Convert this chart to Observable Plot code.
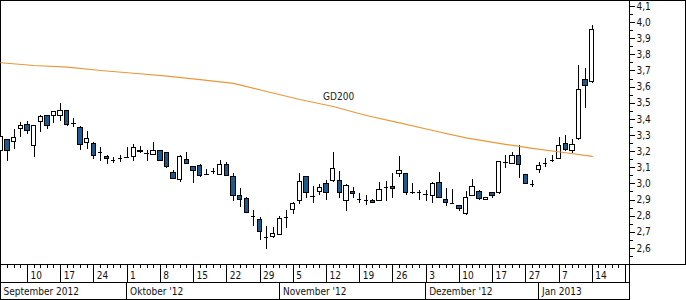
<!DOCTYPE html>
<html><head><meta charset="utf-8">
<script src="https://cdn.jsdelivr.net/npm/d3@7"></script>
<script src="https://cdn.jsdelivr.net/npm/@observablehq/plot@0.6"></script>
<style>
html,body{margin:0;padding:0;background:#fff;}
#wrap{width:686px;height:300px;overflow:hidden;background:#fff;}
#wrap svg{display:block;}
</style></head><body><div id="wrap"></div>
<script>
// ---- data (trading-day index 0 = 4 Sep 2012, 89 = 14 Jan 2013) ----
const opens  = [3.203,3.273,3.258,3.342,3.368,3.234,3.382,3.418,3.418,3.420,3.449,3.373,3.348,3.255,3.249,3.196,3.164,3.145,3.156,3.165,
                3.165,3.195,3.187,3.180,3.201,3.193,3.069,3.025,3.149,3.103,3.114,3.056,3.079,3.056,3.118,3.041,2.928,2.907,2.798,2.777,
                2.666,2.670,2.685,2.790,2.840,2.891,3.041,2.922,2.949,3.000,3.015,3.021,2.897,2.952,2.903,2.897,2.897,2.893,2.979,2.982,
                3.062,3.062,2.948,2.944,2.932,2.928,3.007,2.903,2.877,2.860,2.815,2.928,2.952,2.901,2.942,2.942,3.134,3.125,3.170,3.058,
                2.996,3.089,3.125,3.145,3.156,3.249,3.203,3.280,3.647,3.631];
const highs  = [3.312,3.275,3.335,3.382,3.387,3.362,3.424,3.421,3.451,3.497,3.455,3.404,3.356,3.327,3.254,3.224,3.176,3.165,3.176,3.227,
                3.244,3.232,3.207,3.255,3.207,3.195,3.083,3.176,3.193,3.108,3.120,3.087,3.097,3.145,3.131,3.062,2.969,2.915,2.835,2.790,
                2.738,2.732,2.798,2.835,2.887,3.066,3.045,2.986,2.994,3.021,3.193,3.077,2.994,2.979,2.942,2.928,2.901,3.010,3.014,3.062,
                3.172,3.066,3.000,2.959,2.959,3.010,3.073,2.973,2.963,2.866,2.955,3.027,2.959,2.917,2.945,3.139,3.176,3.196,3.238,3.060,
                3.021,3.134,3.156,3.176,3.288,3.300,3.273,3.734,3.714,3.982];
const lows   = [3.195,3.139,3.211,3.289,3.304,3.165,3.320,3.337,3.377,3.389,3.356,3.348,3.207,3.213,3.149,3.141,3.120,3.128,3.134,3.162,
                3.139,3.187,3.141,3.176,3.139,3.097,3.025,3.007,3.123,3.000,3.038,3.052,3.058,3.052,3.048,2.888,2.852,2.814,2.738,2.649,
                2.592,2.660,2.680,2.726,2.809,2.872,2.907,2.880,2.926,2.897,3.010,2.907,2.829,2.907,2.880,2.863,2.877,2.893,2.893,2.907,
                3.041,2.928,2.932,2.897,2.891,2.877,2.911,2.861,2.877,2.829,2.804,2.928,2.897,2.897,2.908,2.936,3.094,3.120,3.031,2.998,
                2.976,3.062,3.104,3.135,3.151,3.203,3.187,3.269,3.466,3.625];
const closes = [3.289,3.203,3.286,3.362,3.327,3.356,3.413,3.362,3.444,3.449,3.367,3.373,3.242,3.280,3.176,3.196,3.153,3.145,3.156,3.165,
                3.224,3.205,3.187,3.207,3.145,3.103,3.031,3.165,3.125,3.077,3.052,3.056,3.079,3.118,3.052,2.928,2.901,2.820,2.798,2.700,
                2.666,2.691,2.784,2.790,2.877,3.010,2.944,2.922,2.973,2.944,3.093,2.944,2.986,2.938,2.903,2.897,2.883,2.963,2.979,2.970,
                3.077,2.944,2.948,2.944,2.932,3.000,2.911,2.883,2.877,2.843,2.912,2.979,2.907,2.913,2.925,3.134,3.134,3.176,3.118,3.000,
                2.996,3.108,3.125,3.145,3.238,3.211,3.244,3.584,3.610,3.956];
const gdIndex  = [0,5,10,15,20,25,30,35,40,45,50,55,60,65,70,75,80,85,89];
const gdValues = [3.751,3.734,3.724,3.703,3.686,3.668,3.647,3.623,3.573,3.523,3.480,3.424,3.378,3.331,3.285,3.251,3.220,3.193,3.170];
const gdName = "GD200";
const gdLabelAt = 50;
const dayTickIndex  = [4,9,14,19,24,29,34,39,44,49,54,59,64,69,74,79,84,89,94];
const dayTickLabels = ["10","17","24","1","8","15","22","29","5","12","19","26","3","10","17","27","7","14",""];
const monthStart  = [19,42,64,81];
const monthLabels = ["September 2012","Oktober '12","November '12","Dezember '12","Jan 2013"];
const yTicks      = [2.5,2.6,2.7,2.8,2.9,3.0,3.1,3.2,3.3,3.4,3.5,3.6,3.7,3.8,3.9,4.0,4.1];
const yTickLabels = ["","2,6","2,7","2,8","2,9","3,0","3,1","3,2","3,3","3,4","3,5","3,6","3,7","3,8","3,9","4,0","4,1"];
const yMinorTicks = [2.55,2.65,2.75,2.85,2.95,3.05,3.15,3.25,3.35,3.45,3.55,3.65,3.75,3.85,3.95,4.05];

// ---- derived tables ----
const candles = opens.map((o, i) => ({i, open: o, high: highs[i], low: lows[i], close: closes[i]}));
const gd = gdIndex.map((i, k) => ({i, v: gdValues[k]}));
const X_DOMAIN = [-0.05, 94.6];
const Y_DOMAIN = [2.494, 4.137];
const BLUE = "#1d5b8e", ORANGE = "#e8983a";
const FONT = "'DejaVu Sans Condensed','DejaVu Sans',sans-serif";
const yLabelMap = new Map(yTicks.map((t, k) => [Math.round(t * 100), yTickLabels[k]]));
const days = d3.range(0, 95);
const bounds = [X_DOMAIN[0], ...monthStart, X_DOMAIN[1]];
const months = monthLabels.map((m, k) => ({m, x1: bounds[k], x2: bounds[k + 1]}));
const dayTicks = dayTickIndex.map((i, k) => ({i, label: dayTickLabels[k]}));
const HALF = 0.33;

const chart = Plot.plot({
  width: 686, height: 265,
  marginLeft: 0, marginRight: 57, marginTop: 0, marginBottom: 0,
  style: {fontFamily: FONT, fontSize: "10px", background: "white", color: "black"},
  x: {type: "linear", domain: X_DOMAIN, axis: null},
  y: {type: "linear", domain: Y_DOMAIN, label: null},
  marks: [
    Plot.frame({insetRight: -56, insetBottom: 1, shapeRendering: "crispEdges"}),
    Plot.frame({insetBottom: 1, shapeRendering: "crispEdges"}),
    Plot.axisY({anchor: "right", ticks: yMinorTicks, tickSize: 3, tickFormat: () => "", label: null, shapeRendering: "crispEdges"}),
    Plot.axisY({anchor: "right", ticks: yTicks, tickSize: 5, tickPadding: 2, label: null,
                tickFormat: d => yLabelMap.get(Math.round(d * 100)) ?? "", fill: "#111", shapeRendering: "crispEdges"}),
    Plot.ruleX(candles, {x: "i", y1: "low", y2: "high", stroke: "black", shapeRendering: "crispEdges"}),
    Plot.rect(candles, {x1: d => d.i - HALF, x2: d => d.i + HALF, y1: "open", y2: "close",
                        fill: d => d.close < d.open ? BLUE : "white", stroke: "black", shapeRendering: "crispEdges"}),
    Plot.ruleY(candles.filter(d => d.open === d.close), {y: "close", x1: d => d.i - HALF, x2: d => d.i + HALF,
                        stroke: "black", shapeRendering: "crispEdges"}),
    Plot.line(gd, {x: "i", y: "v", stroke: ORANGE, strokeWidth: 1.2}),
    Plot.text(gd.filter(d => d.i === gdLabelAt), {x: "i", y: "v", text: () => gdName, textAnchor: "start",
                        dx: -10, dy: -10, fill: "#222", fontSize: 10})
  ]
});

const strip = Plot.plot({
  width: 686, height: 35,
  marginLeft: 0, marginRight: 57, marginTop: 0, marginBottom: 0,
  style: {fontFamily: FONT, fontSize: "10px", background: "white", color: "black", overflow: "visible"},
  x: {type: "linear", domain: X_DOMAIN, axis: null},
  y: {type: "band", domain: ["day", "month"], range: [0, 34], padding: 0, axis: null},
  marks: [
    Plot.barX(["day"], {x1: () => X_DOMAIN[0], x2: () => X_DOMAIN[1], y: d => d, fill: "white", stroke: "black",
                        insetTop: -1, shapeRendering: "crispEdges"}),
    Plot.barX(months, {x1: "x1", x2: "x2", y: () => "month", fill: "white", stroke: "black", shapeRendering: "crispEdges"}),
    Plot.tickX(days, {x: d => d, y: () => "day", insetBottom: 14, stroke: "black", shapeRendering: "crispEdges"}),
    Plot.tickX(dayTicks, {x: "i", y: () => "day", stroke: "black", shapeRendering: "crispEdges"}),
    Plot.text(dayTicks, {x: "i", y: () => "day", text: "label", textAnchor: "start", dx: 3, dy: 2, fill: "#111"}),
    Plot.text(months, {x: "x1", y: () => "month", text: "m", textAnchor: "start", dx: 3, dy: 1, fill: "#111"})
  ]
});

const wrap = document.getElementById("wrap");
wrap.appendChild(chart);
wrap.appendChild(strip);
</script>
</body></html>
